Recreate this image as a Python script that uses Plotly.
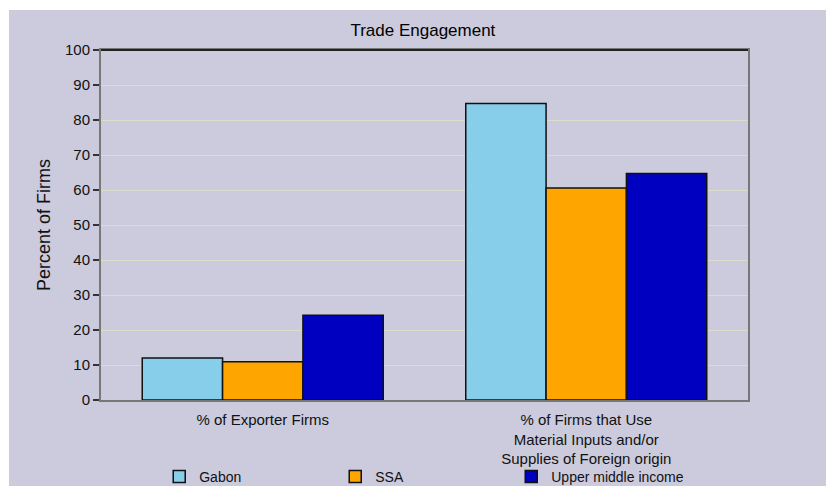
import plotly.graph_objects as go

# data
categories = ["% of Exporter Firms",
              "% of Firms that Use<br>Material Inputs and/or<br>Supplies of Foreign origin"]
series_names = ["Gabon", "SSA", "Upper middle income"]
gabon = [12.0, 84.7]
ssa = [10.9, 60.6]
upper_middle = [24.2, 64.7]

colors = ["#87CEEB", "#FFA500", "#0000C0"]
bg = "#CBCBDD"
font_family = "Liberation Sans, Arial, sans-serif"

fig = go.Figure()
for name, vals, col in zip(series_names, [gabon, ssa, upper_middle], colors):
    fig.add_trace(go.Bar(
        x=categories, y=vals, name=name,
        marker=dict(color=col, line=dict(color="#111111", width=1.5)),
    ))

fig.update_layout(
    width=826, height=486,
    barmode="group", bargap=0.255, bargroupgap=0,
    paper_bgcolor=bg, plot_bgcolor=bg,
    margin=dict(l=101, r=78, t=50, b=86, autoexpand=False),
    font=dict(family=font_family, size=14, color="#111111"),
    title=dict(text="Trade Engagement", x=0.512, xanchor="center",
               y=0.938, yanchor="middle",
               font=dict(size=17, color="#000000")),
    showlegend=True,
    legend=dict(orientation="h", x=0.09, xanchor="left", y=-0.22, yanchor="middle",
                entrywidth=131, entrywidthmode="pixels",
                bgcolor="rgba(0,0,0,0)", font=dict(size=14),
                traceorder="normal"),
    xaxis=dict(showline=True, linecolor="#777777", linewidth=2, mirror=True,
               ticks="", showgrid=False, tickfont=dict(size=15),
               ticklabelstandoff=5, automargin=False),
    yaxis=dict(range=[0, 100], tickvals=list(range(0, 101, 10)),
               showline=True, linecolor="#777777", linewidth=2, mirror=True,
               ticks="outside", ticklen=6, tickcolor="#333333", tickwidth=2,
               showgrid=True, gridcolor="#DCDCCB", gridwidth=1,
               zeroline=False, tickfont=dict(size=15), automargin=False,
               title=dict(text="Percent of Firms", standoff=10,
                          font=dict(size=18))),
    shapes=[
        # black top frame line
        dict(type="line", xref="paper", yref="paper", x0=0, x1=1, y0=1, y1=1,
             line=dict(color="#222222", width=2)),
        # white strips at top and left of the image
        dict(type="rect", xref="paper", yref="paper", x0=-0.2, x1=1.2,
             y0=1.1143, y1=1.2, fillcolor="white", line=dict(width=0)),
        dict(type="rect", xref="paper", yref="paper", x0=-0.2, x1=-0.1422,
             y0=-0.3, y1=1.2, fillcolor="white", line=dict(width=0)),
    ],
)

# no page margin so the figure fills the window
fig.write_html("out.html", config={"displayModeBar": False},
               post_script="document.body.style.margin='0';document.body.style.overflow='hidden';")
